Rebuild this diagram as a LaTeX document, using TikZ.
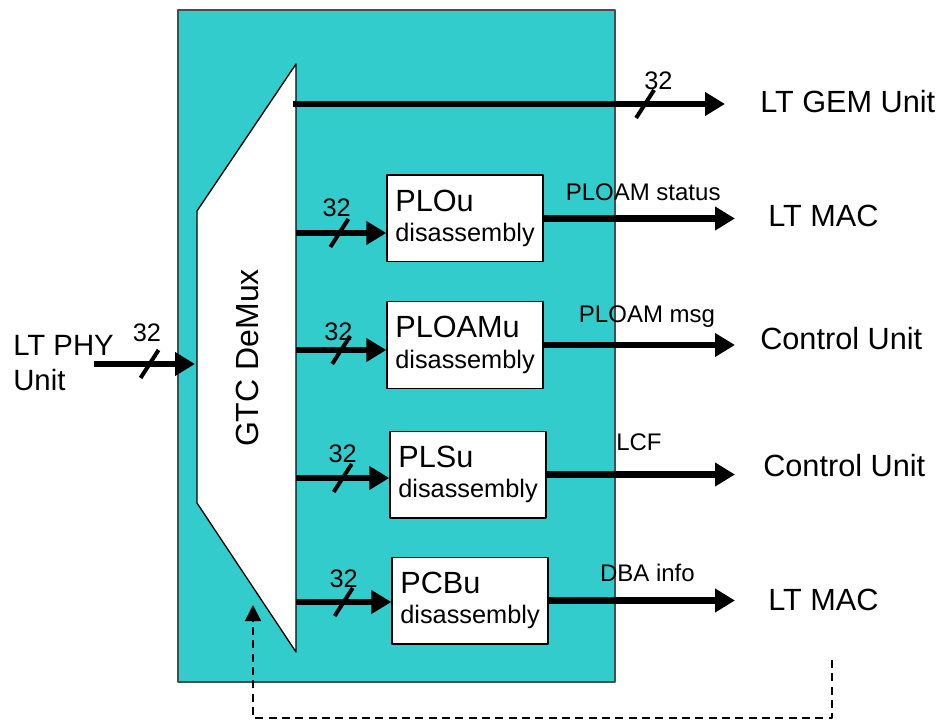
\documentclass[tikz,border=0pt]{standalone}
\usepackage{fontspec}
\setmainfont{Liberation Sans}
\usetikzlibrary{arrows.meta,positioning}
\definecolor{demuxteal}{HTML}{33CCCC}
\begin{document}
\begin{tikzpicture}[x=0.75pt, y=-0.75pt, line join=round,
  bus/.style={line width=5pt, -{Triangle[length=15pt,width=17pt]}},
  unitbox/.style={draw, line width=1pt, fill=white, align=left, inner sep=0pt,
    font=\fontsize{19}{23}\selectfont, minimum width=117pt, minimum height=65pt},
  ext/.style={font=\fontsize{23}{27}\selectfont, anchor=west, inner sep=0pt},
  sig/.style={font=\fontsize{18}{22}\selectfont, anchor=base, inner sep=0pt},
  bits/.style={font=\fontsize{19}{22}\selectfont, anchor=base, inner sep=0pt},
  buscut/.pic={\draw[line width=3pt, -] (-9,14) -- (9,-14);}]
  \useasboundingbox (0,0) rectangle (938,723);
  % frame of the GTC layer
  \draw[fill=demuxteal, draw=black!70, line width=1.2pt] (178,10) rectangle (615,682);
  % demultiplexer
  \draw[fill=white, line width=1pt] (197,211) -- (296,64) -- (296,652) -- (197,503) -- cycle;
  \node[rotate=90, font=\fontsize{24}{28}\selectfont] (demux) at (247,358) {GTC DeMux};
  \coordinate (d0) at (293,104);
  \coordinate (d1) at (296,233);
  \coordinate (d2) at (296,350);
  \coordinate (d3) at (296,478);
  \coordinate (d4) at (296,602);
  \coordinate (tipx) at (735,0);

  % disassembly units
  \node[unitbox] (plou) at (465,218.5)
    {{\fontsize{23}{27}\selectfont PLOu}\\disassembly};
  \node[unitbox] (ploamu) at (465,345)
    {{\fontsize{23}{27}\selectfont PLOAMu}\\disassembly};
  \node[unitbox] (plsu) at (468,474.5)
    {{\fontsize{23}{27}\selectfont PLSu}\\disassembly};
  \node[unitbox] (pcbu) at (470,600.5)
    {{\fontsize{23}{27}\selectfont PCBu}\\disassembly};

  % outside units
  \node[ext, align=left, font=\fontsize{22}{26}\selectfont] (phy) at (13,363) {LT PHY\\Unit};
  \node[ext] (gem) at (760,102) {LT GEM Unit};
  \node[ext] (mac1) at (768,216) {LT MAC};
  \node[ext] (ctl1) at (760,339) {Control Unit};
  \node[ext] (ctl2) at (763,466) {Control Unit};
  \node[ext] (mac2) at (768,600) {LT MAC};
  \coordinate (phyout) at (94,364);
  \coordinate (demuxin) at (195,364);

  % 32-bit buses
  \draw[bus] (phyout) -- (demuxin) pic[pos=.55]{buscut}
    node[bits, pos=.55, xshift=-2pt, yshift=16.5pt]{32};
  \draw[bus] (d0) -- (d0 -| 725,0) pic[pos=.815]{buscut}
    node[bits, pos=.815, xshift=10pt, yshift=10.5pt]{32};
  \draw[bus] (d1) -- (d1 -| plou.west) pic[pos=.48]{buscut}
    node[bits, pos=.45, yshift=12pt]{32};
  \draw[bus] (d2) -- (d2 -| ploamu.west) pic[pos=.5]{buscut}
    node[bits, pos=.47, yshift=7.5pt]{32};
  \draw[bus] (d3) -- (d3 -| plsu.west) pic[pos=.5]{buscut}
    node[bits, pos=.5, yshift=12pt]{32};
  \draw[bus] (d4) -- (d4 -| pcbu.west) pic[pos=.5]{buscut}
    node[bits, pos=.5, yshift=11pt]{32};

  % outputs
  \draw[bus] (plou.east) -- (plou.east -| tipx)
    node[sig, pos=.52, yshift=13.5pt]{PLOAM status};
  \draw[bus] (ploamu.east) -- (ploamu.east -| tipx)
    node[sig, pos=.54, yshift=16.5pt]{PLOAM msg};
  \draw[bus] (plsu.east) -- (plsu.east -| tipx)
    node[sig, pos=.49, yshift=18pt]{LCF};
  \draw[bus] (pcbu.east) -- (pcbu.east -| tipx)
    node[sig, pos=.53, yshift=14pt]{DBA info};

  % feedback from LT MAC to the demux
  \coordinate (fb) at (832,660);
  \coordinate (fbtip) at (253,605);
  \draw[line width=1.2pt, dash pattern=on 6pt off 4pt, -{Triangle[length=12pt,width=12pt]}]
    (fb) -- ++(0,58) -| (fbtip);
\end{tikzpicture}
\end{document}
